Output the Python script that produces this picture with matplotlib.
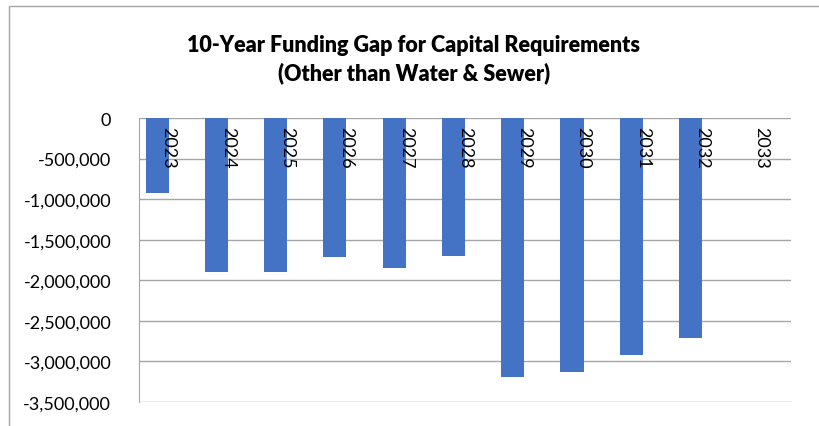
import numpy as np
import matplotlib.pyplot as plt
from matplotlib.patches import Rectangle
from matplotlib.ticker import FuncFormatter

years = ['2023', '2024', '2025', '2026', '2027', '2028',
         '2029', '2030', '2031', '2032', '2033']
funding_gap = [-930000, -1893000, -1900000, -1716000, -1843000, -1696000,
               -3198000, -3130000, -2923000, -2713000, np.nan]

plt.rcParams['font.family'] = ['Lato', 'DejaVu Sans']

fig = plt.figure(figsize=(8.2, 4.27), dpi=100)
ax = fig.add_axes([139 / 820, 1 - 403 / 427, (791 - 139) / 820, (403 - 119) / 427])

# outer chart border (partly cropped in the reference)
fig.patches.append(Rectangle((9 / 820, -0.1), 1.2, 1.1 - 7 / 427,
                             transform=fig.transFigure, fill=False,
                             edgecolor='#A6A6A6', linewidth=1))

x = np.arange(len(years))
bar_w = 0.39
ax.bar(x - bar_w / 2, funding_gap, width=bar_w, color='#4472C4', zorder=3)

ax.set_xlim(-0.5, len(years) - 0.5)
ax.set_ylim(-3500000, 0)
ax.set_yticks(np.arange(-3500000, 1, 500000))
ax.yaxis.set_major_formatter(FuncFormatter(lambda v, p: f'{v:,.0f}'))
ax.tick_params(axis='y', length=0, pad=20, labelsize=13)
ax.grid(axis='y', color='#A6A6A6', linewidth=1, zorder=0)

ax.set_xticks([])
for xi, lab in zip(x, years):
    ax.text(xi, -100000, lab, rotation=-90, ha='center', va='top',
            fontsize=13, zorder=4)

for side in ['top', 'right', 'bottom']:
    ax.spines[side].set_visible(False)
ax.spines['left'].set_color('#A6A6A6')

fig.text(414 / 820, 1 - 46 / 427, '10-Year Funding Gap for Capital Requirements',
         ha='center', va='center', fontsize=15.5, fontweight='heavy')
fig.text(414 / 820, 1 - 73 / 427, '(Other than Water & Sewer)',
         ha='center', va='center', fontsize=15.5, fontweight='heavy')

fig.savefig('out.png', dpi=100)
